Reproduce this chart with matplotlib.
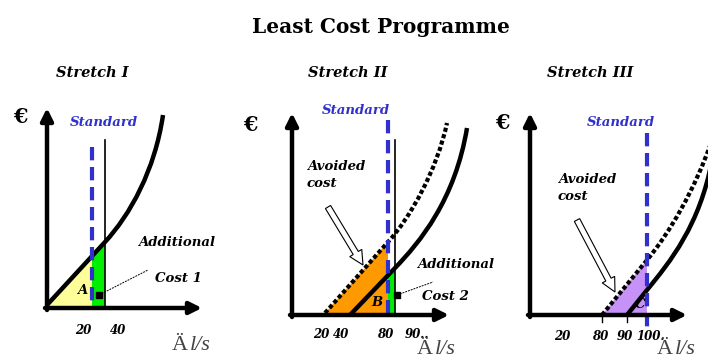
import matplotlib.pyplot as plt
from matplotlib.path import Path
from matplotlib.patches import PathPatch, Polygon, FancyArrow

# diagram drawn in pixel space of the 708x360 picture (y grows downward)
title = "Least Cost Programme"
panel_titles = ["Stretch I", "Stretch II", "Stretch III"]
title_x = [92, 348, 590]

# axis origins and arrow tips
origins = [(47, 308), (292, 315), (530, 315)]
x_tips = [(202, 308), (449, 315), (687, 315)]
y_tips = [(47, 108), (292, 113), (530, 113)]
euro_pos = [(20, 117), (250, 125), (502, 123)]

# standard (blue dashed) lines: x, y_top, y_bottom
standard_x = [92, 388, 647]
standard_top = [147, 120, 133]
standard_bot = [308, 315, 327]
standard_label = [(104, 123), (356, 110), (621, 123)]

# thin black verticals
thin_x = [105, 395]
thin_top = [140, 140]
thin_bot = [308, 315]

# cost curves: start, knee, control1, control2, end
solid_curves = [
    [(47, 305), (105, 242), (130, 215), (155, 170), (163, 115)],
    [(350, 315), (395, 268), (420, 242), (455, 200), (467, 128)],
    [(627, 315), (647, 290), (670, 262), (700, 225), (712, 160)],
]
dotted_curves = [
    [(325, 313), (388, 242), (410, 218), (437, 170), (447, 123)],
    [(602, 315), (647, 260), (668, 235), (695, 190), (712, 140)],
]

# shaded areas
fills = [
    ([(47, 308), (47, 305), (92, 256), (92, 308)], "#FFFF99"),
    ([(92, 308), (92, 256), (105, 242), (105, 308)], "#00EE00"),
    ([(325, 315), (325, 313), (388, 242), (388, 315)], "#FF9900"),
    ([(388, 315), (388, 275), (395, 268), (395, 315)], "#00EE00"),
    ([(602, 315), (647, 260), (647, 315)], "#C792F7"),
]

# tick labels
tick_labels = [["20", "40"], ["20", "40", "80", "90.."], ["20", "80", "90", "100."]]
tick_x = [[83, 118], [321, 341, 385, 417], [562, 600, 625, 650]]
tick_y = [330, 335, 337]
unit_pos = [(172, 346), (417, 350), (657, 350)]
small_ticks = [602, 627]

# area letters
area_labels = [("A", 82, 290), ("B", 377, 302), ("C", 640, 305)]

# hollow arrows "Avoided cost"
avoided_text = [(307, 175), (558, 188)]
avoided_arrow = [((328, 207), (363, 265)), ((577, 220), (615, 292))]

# additional cost labels and leaders
additional = [(138, 243, "Additional", "Cost 1", 155, 278), (417, 265, "Additional", "Cost 2", 422, 297)]
leaders = [((99, 295), (148, 270)), ((397, 295), (433, 282))]

fig = plt.figure(figsize=(7.08, 3.6), dpi=100)
ax = fig.add_axes([0, 0, 1, 1])
ax.set_xlim(0, 708)
ax.set_ylim(360, 0)
ax.axis("off")

serif = "DejaVu Serif"
lab_style = dict(fontweight="bold", style="italic", family=serif)
ax.text(381, 27, title, fontsize=14.5, fontweight="bold", family=serif, ha="center", va="center")

for i in range(3):
    ax.text(title_x[i], 73, panel_titles[i], fontsize=10.5, ha="center", va="center", **lab_style)

for poly, col in fills:
    ax.add_patch(Polygon(poly, closed=True, facecolor=col, edgecolor="none", zorder=1))

for i in range(3):
    ax.annotate("", xy=x_tips[i], xytext=(origins[i][0] - 2, origins[i][1]),
                arrowprops=dict(arrowstyle="-|>", lw=3.2, color="black", mutation_scale=18,
                                shrinkA=0, shrinkB=0), zorder=5)
    ax.annotate("", xy=y_tips[i], xytext=(origins[i][0], origins[i][1] + 2),
                arrowprops=dict(arrowstyle="-|>", lw=3.2, color="black", mutation_scale=18,
                                shrinkA=0, shrinkB=0), zorder=5)
    ax.text(euro_pos[i][0], euro_pos[i][1], "€", fontsize=15, fontweight="bold", family=serif,
            ha="center", va="center")

for xs in small_ticks:
    ax.plot([xs, xs], [315, 322], color="black", lw=1, zorder=4)

for i in range(2):
    ax.plot([thin_x[i], thin_x[i]], [thin_top[i], thin_bot[i]], color="black", lw=1.2, zorder=3)


def curve_path(pts):
    codes = [Path.MOVETO, Path.LINETO, Path.CURVE4, Path.CURVE4, Path.CURVE4]
    return Path(pts, codes)


for pts in solid_curves:
    ax.add_patch(PathPatch(curve_path(pts), facecolor="none", edgecolor="black", lw=3.2,
                           capstyle="butt", zorder=4))
for pts in dotted_curves:
    ax.add_patch(PathPatch(curve_path(pts), facecolor="none", edgecolor="black", lw=3,
                           linestyle=(0, (1.0, 0.6)), zorder=4))

for i in range(3):
    ax.plot([standard_x[i], standard_x[i]], [standard_top[i], standard_bot[i]], color="#3030CC",
            lw=3, linestyle=(0, (3.2, 1.6)), zorder=4)
    ax.text(standard_label[i][0], standard_label[i][1], "Standard", color="#3030CC", fontsize=9.5,
            ha="center", va="center", **lab_style)

for lab, x, y in area_labels:
    ax.text(x, y, lab, fontsize=9.5, ha="center", va="center", zorder=6, **lab_style)

for i in range(3):
    for lab, x in zip(tick_labels[i], tick_x[i]):
        ax.text(x, tick_y[i], lab, fontsize=8.5, ha="center", va="center", **lab_style)
    ux, uy = unit_pos[i]
    ax.text(ux, uy, "Ä", fontsize=16, color="#444444", family="Liberation Serif", ha="left", va="center")
    ax.text(ux + 18, uy, "l/s", fontsize=16, color="#444444", family="Liberation Serif", style="italic",
            ha="left", va="center")

for (tx, ty), ((x0, y0), (x1, y1)) in zip(avoided_text, avoided_arrow):
    ax.text(tx, ty, "Avoided\ncost", fontsize=9.5, ha="left", va="center", linespacing=1.35, **lab_style)
    ax.add_patch(FancyArrow(x0, y0, x1 - x0, y1 - y0, width=6, head_width=14, head_length=14,
                            length_includes_head=True, facecolor="white", edgecolor="black",
                            lw=0.8, zorder=5))

for x, y, t1, t2, x2, y2 in additional:
    ax.text(x, y, t1, fontsize=9.5, ha="left", va="center", **lab_style)
    ax.text(x2, y2, t2, fontsize=9.5, ha="left", va="center", **lab_style)

for (x0, y0), (x1, y1) in leaders:
    ax.plot([x0, x1], [y0, y1], color="black", lw=0.7, linestyle=(0, (2, 1)), zorder=5)
    ax.plot([x0], [y0], marker="s", color="black", markersize=4, zorder=6)

fig.savefig("out.png", dpi=100)
